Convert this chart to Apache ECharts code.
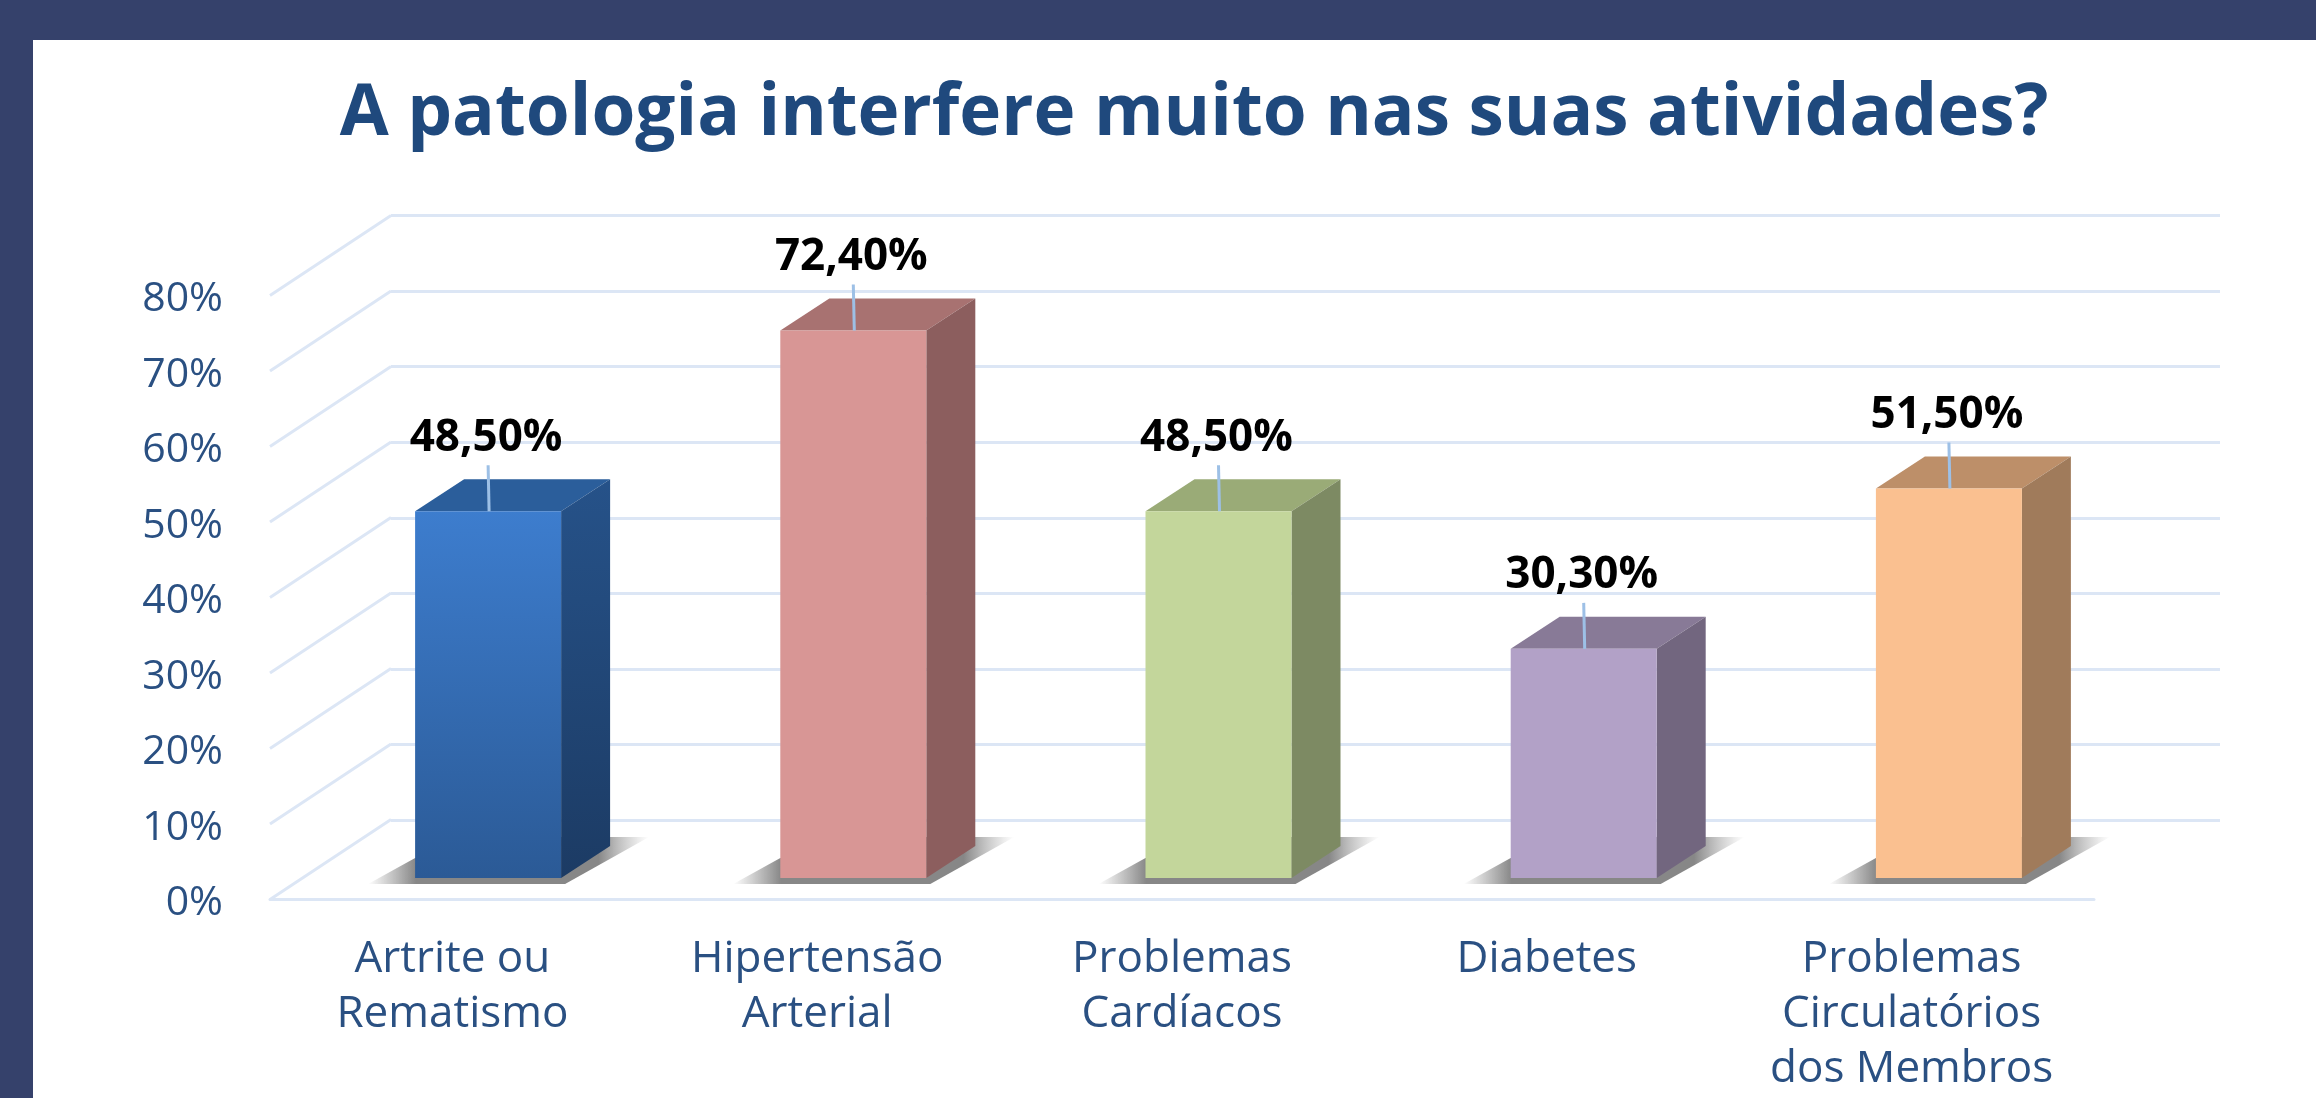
<!DOCTYPE html>
<html>
<head>
<meta charset="utf-8">
<script src="https://cdn.jsdelivr.net/npm/echarts@6/dist/echarts.min.js"></script>
<style>
html, body { margin: 0; padding: 0; background: #35416b; overflow: hidden; }
#panel { position: absolute; left: 33px; top: 40px; right: 0; bottom: 0; background: #fff; }
#main { position: absolute; left: 0; top: 0; width: 2316px; height: 1098px; }
</style>
</head>
<body>
<div id="panel"></div>
<div id="main"></div>
<script>
var categories = ['Artrite ou\nRematismo', 'Hipertensão\nArterial', 'Problemas\nCardíacos', 'Diabetes', 'Problemas\nCirculatórios\ndos Membros'];
var values = [48.5, 72.4, 48.5, 30.3, 51.5];
var ticks = [0, 10, 20, 30, 40, 50, 60, 70, 80];
var frontColors = [['#3d7dce', '#2b5a96'], ['#d89695', '#d89695'], ['#c3d69b', '#c3d69b'], ['#b2a1c7', '#b2a1c7'], ['#fac090', '#fac090']];
var sideColors = [['#265289', '#1c3b64'], ['#8c5e5e', '#8c5e5e'], ['#7d8a63', '#7d8a63'], ['#72667f', '#72667f'], ['#a07b5b', '#a07b5b']];
var topColors = ['#2b5e9b', '#a87271', '#9aab77', '#887a97', '#bd8f69'];

var textBlue = '#2a5082';
var gridBlue = '#dce6f5';
var font = '"Open Sans", sans-serif';

var myChart = echarts.init(document.getElementById('main'));

function vgrad(c) {
    return new echarts.graphic.LinearGradient(0, 0, 0, 1, [{offset: 0, color: c[0]}, {offset: 1, color: c[1]}]);
}

// one 3d bar: floor shadow, front, side, top, leader line and value label
function renderBar(params, api) {
    var i = params.dataIndex;
    var val = api.value(1);
    var p = api.coord([i, val]);
    var base = api.coord([i, 0]);
    var w = 146, dx = 49, dy = 32;
    var x = p[0] - w / 2, y = p[1], b = base[1], r = x + w;
    var text = val.toFixed(2).replace('.', ',') + '%';
    return {
        type: 'group',
        children: [
            {
                type: 'polygon',
                shape: {points: [[x - 47, b + 6], [r + 4, b + 6], [r + 88, b - 41], [r - 10, b - 41], [x, b - 20]]},
                style: {
                    fill: new echarts.graphic.LinearGradient(0, 0, 1, 0, [
                        {offset: 0, color: 'rgba(140,140,140,0)'},
                        {offset: 0.17, color: 'rgba(135,135,135,1)'},
                        {offset: 0.82, color: 'rgba(135,135,135,1)'},
                        {offset: 1, color: 'rgba(170,170,170,0)'}
                    ])
                }
            },
            {type: 'polygon', shape: {points: [[x, y], [x + dx, y - dy], [r + dx, y - dy], [r, y]]}, style: {fill: topColors[i]}},
            {type: 'polygon', shape: {points: [[r, y], [r + dx, y - dy], [r + dx, b - dy], [r, b]]}, style: {fill: vgrad(sideColors[i])}},
            {type: 'rect', shape: {x: x, y: y, width: w, height: b - y}, style: {fill: vgrad(frontColors[i])}},
            {type: 'line', shape: {x1: p[0] + 1, y1: y, x2: p[0], y2: y - 46}, style: {stroke: '#9dc0e6', lineWidth: 3}},
            {
                type: 'text',
                style: {
                    x: p[0] - 2, y: y - 73, text: text, fill: '#000',
                    font: 'bold 44px ' + font, align: 'center', verticalAlign: 'middle'
                }
            }
        ]
    };
}

// depth lines from the front axis to the back wall
function renderDepth(params, api) {
    var y = api.coord([0, api.value(0)])[1];
    var x = params.coordSys.x;
    return {
        type: 'line',
        shape: {x1: x, y1: y, x2: x + 121, y2: y - 80},
        style: {stroke: gridBlue, lineWidth: 3}
    };
}

var option = {
    animation: false,
    title: {
        text: 'A patologia interfere muito nas suas atividades?',
        left: 1189,
        top: 74,
        textAlign: 'center',
        textStyle: {color: '#1f497d', fontFamily: font, fontWeight: 'bold', fontSize: 71}
    },
    grid: [
        {left: 391, width: 1829, top: 215.6, height: 604.4},
        {left: 270, width: 1824, top: 295.5, height: 604},
        {left: 305.5, width: 1826, top: 273, height: 605},
        // tick labels sit a little under the front axis ends
        {left: 270, width: 1824, top: 299.5, height: 604}
    ],
    xAxis: [
        {gridIndex: 0, type: 'category', data: categories, show: false},
        {
            gridIndex: 1, type: 'category', data: categories,
            axisLine: {lineStyle: {color: gridBlue, width: 3}},
            axisTick: {show: false},
            axisLabel: {color: textBlue, fontFamily: font, fontSize: 44, lineHeight: 55, margin: 32, interval: 0}
        },
        {gridIndex: 2, type: 'category', data: categories, show: false},
        {gridIndex: 3, type: 'category', data: categories, show: false}
    ],
    yAxis: [
        {
            gridIndex: 0, type: 'value', min: 0, max: 80, interval: 10,
            axisLine: {show: false}, axisTick: {show: false}, axisLabel: {show: false},
            splitLine: {lineStyle: {color: gridBlue, width: 3}}
        },
        {gridIndex: 1, type: 'value', min: 0, max: 80, show: false, splitLine: {show: false}},
        {gridIndex: 2, type: 'value', min: 0, max: 80, show: false, splitLine: {show: false}},
        {
            gridIndex: 3, type: 'value', min: 0, max: 80, interval: 10,
            axisLine: {show: false}, axisTick: {show: false}, splitLine: {show: false},
            axisLabel: {color: textBlue, fontFamily: font, fontSize: 41, margin: 47, formatter: '{value}%'}
        }
    ],
    series: [
        {
            type: 'custom', xAxisIndex: 1, yAxisIndex: 1, silent: true,
            renderItem: renderDepth, encode: {y: 0},
            data: ticks.map(function (t) { return [t]; })
        },
        {
            type: 'custom', xAxisIndex: 2, yAxisIndex: 2, silent: true,
            renderItem: renderBar, encode: {x: 0, y: 1},
            data: values.map(function (v, i) { return [i, v]; })
        }
    ]
};

myChart.setOption(option);
onresize = myChart.resize;
</script>
</body>
</html>
